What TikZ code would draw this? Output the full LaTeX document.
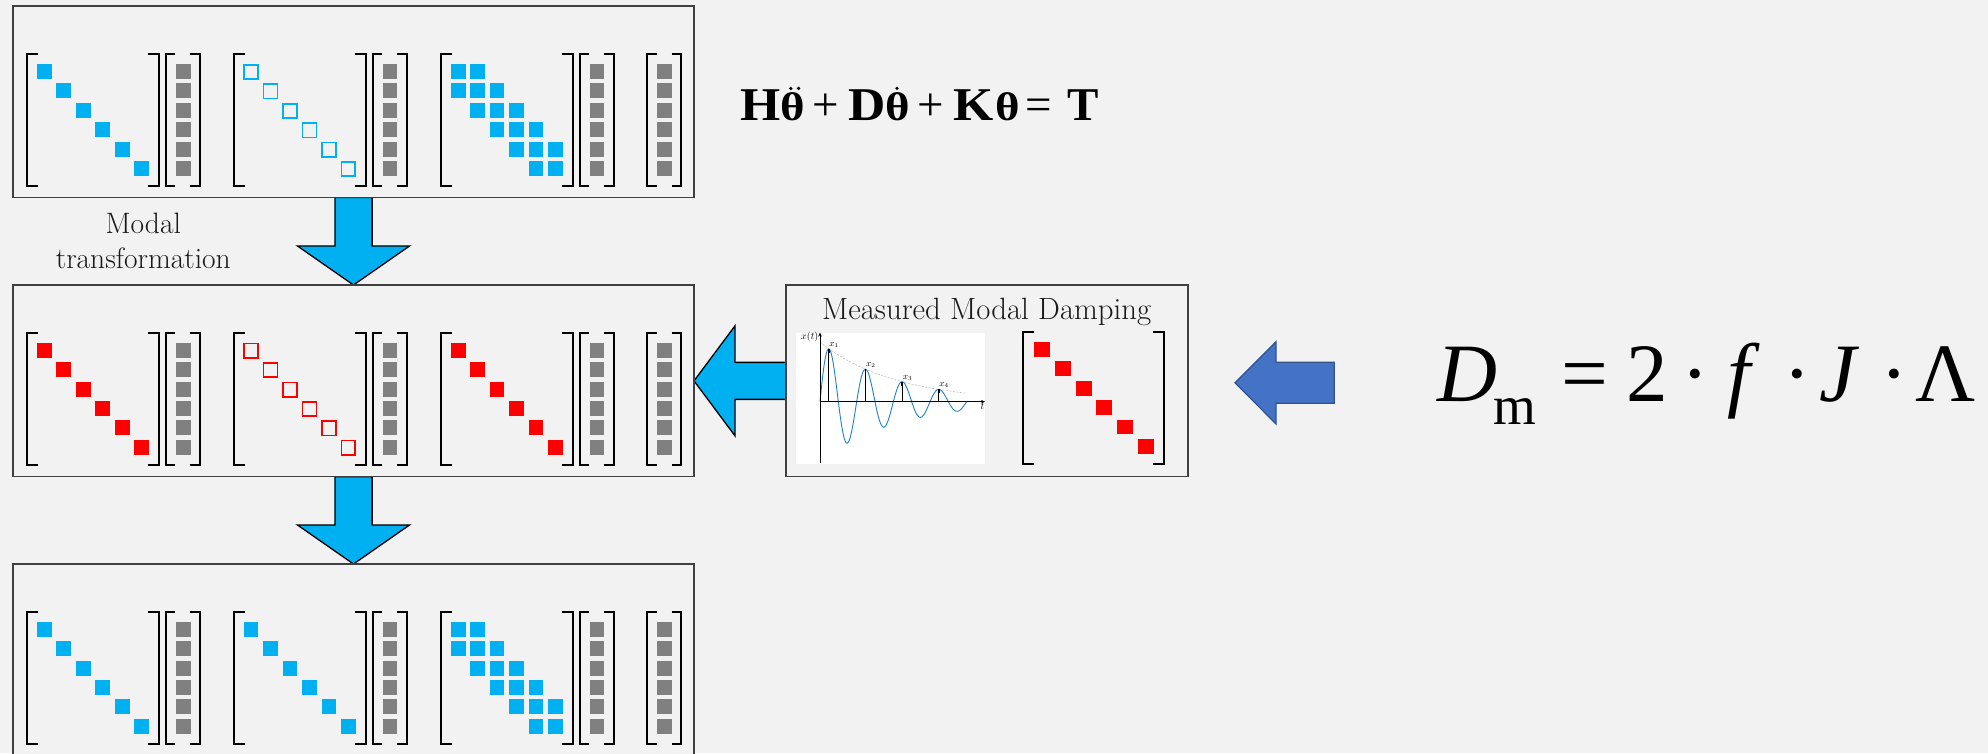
\documentclass[tikz,border=0pt]{standalone}
\usepackage{fontspec}
\usepackage{graphicx}
\newfontfamily\timesf{Liberation Serif}
\usetikzlibrary{calc,arrows.meta}
\definecolor{bgc}{HTML}{F2F2F2}
\definecolor{cyanA}{HTML}{00B0F0}
\definecolor{redA}{HTML}{FF0000}
\definecolor{grayA}{HTML}{808080}
\definecolor{frameC}{HTML}{404040}
\definecolor{blueA}{HTML}{4472C4}
\definecolor{blueB}{HTML}{2F528F}
\definecolor{curveC}{HTML}{2080CC}
\definecolor{envC}{HTML}{BBBBBB}
\pgfdeclarelayer{bglayer}
\pgfdeclarelayer{arrowlayer}
\pgfsetlayers{bglayer,arrowlayer,main}
\tikzset{
  panel/.style={draw=frameC, line width=1.5pt, fill=bgc, inner sep=0pt, outer sep=0pt, anchor=north west},
  brk/.style={draw=black, line width=2pt, line join=miter},
  cyanarrow/.style={fill=cyanA, draw=black, line width=1.3pt, line join=miter},
  bluearrow/.style={fill=blueA, draw=blueB, line width=1.2pt, line join=miter},
  axisline/.style={draw=black, line width=0.6pt, -{Stealth[length=4pt,width=3.5pt]}},
  accdot/.style={fill=black}
}
\newcommand\MyBrackets[4]{%
  \draw[brk] ({#1+#4},#3) -- (#1,#3) -- (#1,{#3+132}) -- ({#1+#4},{#3+132});
  \draw[brk] ({#2-(#4)},#3) -- (#2,#3) -- (#2,{#3+132}) -- ({#2-(#4)},{#3+132});}
\newcommand\MyVec[2]{%
  \MyBrackets{#1}{#1+34}{#2}{9.5}%
  \foreach \i in {0,...,5}{\fill[grayA] ({#1+10.1},{#2+10+19.4*\i}) rectangle ++(14.7,15);}}
\newcommand\MyDiagF[3]{\foreach \i in {0,...,5}{\fill[#3] ({#1+10.2+19.45*\i},{#2+10+19.4*\i}) rectangle ++(14.7,15);}}
\newcommand\MyDiagO[3]{\foreach \i in {0,...,5}{\draw[#3,line width=1.7pt] ({#1+10.65+19.45*\i},{#2+10.85+19.4*\i}) rectangle ++(13.9,14.3);}}
\newcommand\MyTri[3]{\foreach \i/\j in {0/0,0/1,1/0,1/1,1/2,2/1,2/2,2/3,3/2,3/3,3/4,4/3,4/4,4/5,5/4,5/5}{\fill[#3] ({#1+10.2+19.45*\j},{#2+10+19.4*\i}) rectangle ++(14.7,15);}}
\newcommand\MyGroup[4]{\MyBrackets{#1}{#1+132}{#2}{11}\csname My#3\endcsname{#1}{#2}{#4}\MyVec{#1+139}{#2}}
\newcommand\PutAt[2]{\rlap{\hspace{#1}#2}}
\newcommand\ShortTh{\scalebox{1}[0.85]{θ}}
\newcommand\WideL[1]{\scalebox{1.1}[1]{#1}}
\begin{document}
\begin{tikzpicture}[x=1pt,y=-1pt]
\useasboundingbox (0,0) rectangle (1988,753);
\begin{pgfonlayer}{bglayer}
\fill[bgc] (0,0) rectangle (1988,753);
\end{pgfonlayer}
% panels
\node[panel, minimum width=681pt, minimum height=191.5pt] (box1) at (13,6) {};
\node[panel, minimum width=681pt, minimum height=191.7pt] (box2) at (13,285) {};
\node[panel, minimum width=681pt, minimum height=191.5pt] (box3) at (13,564) {};
\node[panel, minimum width=402pt, minimum height=191.7pt] (mmd) at (786,285) {};
% block arrows
\begin{pgfonlayer}{arrowlayer}
\path[cyanarrow] ($(box1.south)+(-18.6,0)$) -- ($(box2.north)+(-18.6,-39)$) -- ($(box2.north)+(-56,-39)$) -- (box2.north) -- ($(box2.north)+(56,-39)$) -- ($(box2.north)+(18.6,-39)$) -- ($(box1.south)+(18.6,0)$) -- cycle;
\path[cyanarrow] ($(box2.south)+(-18.6,0)$) -- ($(box3.north)+(-18.6,-39)$) -- ($(box3.north)+(-56,-39)$) -- (box3.north) -- ($(box3.north)+(56,-39)$) -- ($(box3.north)+(18.6,-39)$) -- ($(box2.south)+(18.6,0)$) -- cycle;
\path[cyanarrow] ($(mmd.west)+(0,-18.5)$) -- ($(box2.east)+(41,-18.5)$) -- ($(box2.east)+(41,-55)$) -- (box2.east) -- ($(box2.east)+(41,55)$) -- ($(box2.east)+(41,18.5)$) -- ($(mmd.west)+(0,18.5)$) -- cycle;
\end{pgfonlayer}
\coordinate (btip) at (1235,382.7);
\path[bluearrow] (btip) -- ++(41,-41) -- ++(0,20.6) -- ++(58.3,0) -- ++(0,41) -- ++(-58.3,0) -- ++(0,20.7) -- cycle;
% box 1
\MyGroup{26.8}{54}{DiagF}{cyanA}
\MyGroup{233.5}{54}{DiagO}{cyanA}
\MyGroup{440.6}{54}{Tri}{cyanA}
\MyVec{647}{54}
% box 2
\MyGroup{26.8}{332.7}{DiagF}{redA}
\MyGroup{233.5}{332.7}{DiagO}{redA}
\MyGroup{440.6}{332.7}{DiagF}{redA}
\MyVec{647}{332.7}
% box 3
\MyGroup{26.8}{611.7}{DiagF}{cyanA}
\MyGroup{233.5}{611.7}{DiagF}{cyanA}
\MyGroup{440.6}{611.7}{Tri}{cyanA}
\MyVec{647}{611.7}
% texts
\node[anchor=north, align=center, inner sep=0pt, text=black!90, font=\fontsize{29.5}{35}\selectfont] (modt) at (143.3,212.8) {Modal\\transformation};
\node[anchor=base west, inner sep=0pt, font=\timesf\bfseries\fontsize{47}{50}\selectfont] (meq) at (739.8,120)
 {\PutAt{0pt}{\WideL{H}}\PutAt{40.4pt}{\ShortTh}\PutAt{71.9pt}{\mdseries +}\PutAt{107.7pt}{\WideL{D}}\PutAt{145.4pt}{\ShortTh}\PutAt{176.9pt}{\mdseries +}\PutAt{212.5pt}{\WideL{K}}\PutAt{254.5pt}{\ShortTh}\PutAt{285.3pt}{\mdseries =}\PutAt{327pt}{T}\hspace{355pt}};
\fill[accdot] ($(meq.base west)+(51.0,-31.6)$) circle (1.8);
\fill[accdot] ($(meq.base west)+(58.8,-31.6)$) circle (1.8);
\fill[accdot] ($(meq.base west)+(157.2,-31.6)$) circle (1.8);
\node[anchor=base west, inner sep=0pt, font=\timesf\fontsize{83}{90}\selectfont] (dmeq) at (1436.4,401.7)
 {\PutAt{0pt}{\itshape D}\PutAt{56.7pt}{\raisebox{-22.3pt}{\fontsize{55}{60}\selectfont m}}\PutAt{124.5pt}{=}\PutAt{189.8pt}{2}\PutAt{244.3pt}{·}\PutAt{290.8pt}{\itshape f}\PutAt{346.8pt}{·}\PutAt{382.1pt}{\itshape J}\PutAt{443.8pt}{·}\PutAt{478.6pt}{Λ}\hspace{535pt}};
% measured modal damping
\node[anchor=base, inner sep=0pt, text=black!90, font=\fontsize{30.8}{36}\selectfont] (mmdt) at (986.7,319.3) {Measured Modal Damping};
\node[fill=white, inner sep=0pt, outer sep=0pt, anchor=north west, minimum width=189pt, minimum height=131pt] (plotbg) at (796,332.5) {};
\coordinate (orig) at (820,401.7);
\draw[envC, line width=0.6pt, dash pattern=on 2pt off 1.5pt, domain=0:146.67, samples=60] plot ({820+\x},{401.7-59.6*exp(-0.0133*\x)});
\draw[curveC, line width=0.9pt, domain=0:146.67, samples=300] plot ({820+\x},{401.7-59.6*exp(-0.0133*\x)*sin(9.8173*\x)});
\draw[axisline] (820,463.3) -- (820,332.5);
\draw[axisline] (orig) -- (985,401.7);
\foreach \k in {0,1,2,3}{
  \pgfmathsetmacro\tk{8.72+36.67*\k}
  \pgfmathsetmacro\yk{401.7-59.6*exp(-0.0133*\tk)*sin(9.8173*\tk)}
  \pgfmathtruncatemacro\kk{\k+1}
  \draw[black, line width=0.6pt] ({820+\tk},401.7) -- ({820+\tk},\yk);
  \draw[black, line width=1.8pt] ({820+\tk},\yk) -- ({820+\tk},{\yk+4});
  \node[anchor=south west, inner sep=0pt, font=\fontsize{9}{10}\selectfont] (xl\kk) at ({820.5+\tk},{\yk-1.5}) {$x_{\kk}$};
}
\node[anchor=east, inner sep=0pt, font=\fontsize{10}{11}\selectfont] (xtl) at (818.5,337) {$x(t)$};
\node[anchor=north, inner sep=0pt, font=\fontsize{10}{11}\selectfont] (tl) at (982.5,403) {$t$};
\MyBrackets{1022.7}{1164.3}{332.3}{11.7}
\foreach \i in {0,...,5}{\fill[redA] ({1034+20.8*\i},{342+19.4*\i}) rectangle ++(16,14.7);}
\end{tikzpicture}
\end{document}
